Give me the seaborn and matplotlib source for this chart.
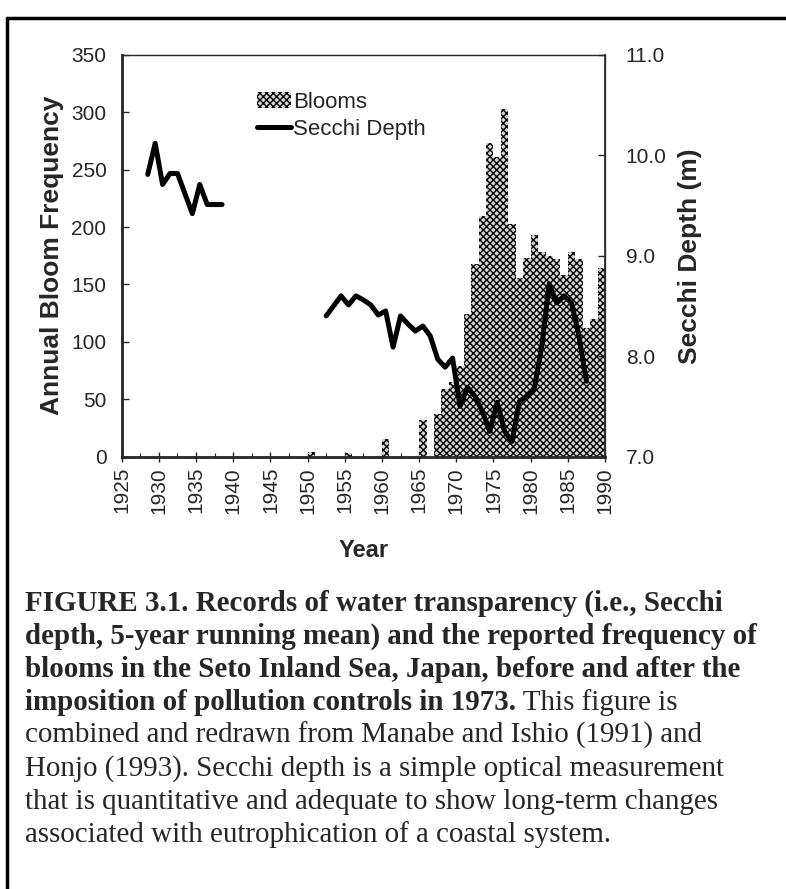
import numpy as np
import pandas as pd
import matplotlib
matplotlib.use("Agg")
import matplotlib.pyplot as plt
import seaborn as sns
from matplotlib.lines import Line2D
from matplotlib.patches import Patch
from matplotlib.ticker import MultipleLocator, FormatStrFormatter

# Reported bloom frequency per year (bars)
bloom_years = [1950, 1955, 1960, 1965, 1967, 1968, 1969, 1970, 1971, 1972,
               1973, 1974, 1975, 1976, 1977, 1978, 1979, 1980, 1981, 1982,
               1983, 1984, 1985, 1986, 1987, 1988, 1989]
bloom_counts = [4, 3, 15, 32, 37, 59, 65, 79, 124, 168,
                210, 273, 261, 303, 203, 156, 173, 193, 178, 175,
                172, 158, 178, 172, 112, 120, 164]

# Secchi depth, 5-year running mean (m) - two separate records
secchi_years_early = list(range(1928, 1939))
secchi_early = [9.81, 10.12, 9.71, 9.82, 9.82, 9.62, 9.42, 9.71, 9.51, 9.51, 9.51]

secchi_years_late = list(range(1952, 1988))
secchi_late = [8.40, 8.50, 8.60, 8.51, 8.60, 8.56, 8.51, 8.41, 8.45, 8.09,
               8.40, 8.32, 8.25, 8.30, 8.20, 7.97, 7.89, 7.98, 7.50, 7.69,
               7.60, 7.45, 7.25, 7.54, 7.25, 7.15, 7.55, 7.60, 7.68, 8.10,
               8.72, 8.53, 8.60, 8.53, 8.20, 7.75]

year_ticks = list(range(1925, 1991, 5))

caption_bold = [
    "FIGURE 3.1. Records of water transparency (i.e., Secchi",
    "depth, 5-year running mean) and the reported frequency of",
    "blooms in the Seto Inland Sea, Japan, before and after the",
    "imposition of pollution controls in 1973.",
]
caption_plain = [
    " This figure is",
    "combined and redrawn from Manabe and Ishio (1991) and",
    "Honjo (1993). Secchi depth is a simple optical measurement",
    "that is quantitative and adequate to show long-term changes",
    "associated with eutrophication of a coastal system.",
]

sns.set_style("ticks")
plt.rcParams["font.family"] = ["Liberation Sans", "DejaVu Sans"]
plt.rcParams["hatch.linewidth"] = 1.0

W, H = 786, 889
fig = plt.figure(figsize=(W / 100, H / 100), dpi=100)
ax = fig.add_axes([121.7 / W, 1 - 456.5 / H, (605 - 121.7) / W, (456.5 - 55) / H])

bar_face = "#d6d6d6"
bar_hatch = "xxxxx"

# bars sit between year and year+1
blooms = pd.DataFrame({"year": np.array(bloom_years) + 0.5, "count": bloom_counts})
sns.barplot(data=blooms, x="year", y="count", native_scale=True, width=1.0,
            errorbar=None, color=bar_face, edgecolor="black", hatch=bar_hatch,
            linewidth=0, ax=ax)

ax.set_xlim(1925, 1990)
ax.set_ylim(0, 350)
ax.xaxis.set_minor_locator(MultipleLocator(2.5))
ax.yaxis.set_major_locator(MultipleLocator(50))
ax.set_xticks(year_ticks)
ax.set_xticklabels([str(y) for y in year_ticks], rotation=90, fontsize=15)
ax.tick_params(axis="y", labelsize=15, direction="in", length=5, width=1, pad=11)
ax.tick_params(axis="x", which="major", direction="inout", length=7, width=1, pad=4)
ax.tick_params(axis="x", which="minor", direction="in", length=3, width=0.8)
ax.set_xlabel("Year", fontsize=17, fontweight="bold", labelpad=18)
ax.set_ylabel("Annual Bloom Frequency", fontsize=19, fontweight="bold", labelpad=5)
for side in ["left", "bottom"]:
    ax.spines[side].set_linewidth(2)
for side in ["top", "right"]:
    ax.spines[side].set_linewidth(1)
    ax.spines[side].set_color("#555555")

ax2 = ax.twinx()
secchi = pd.DataFrame({
    "year": np.array(secchi_years_early + secchi_years_late) + 0.5,
    "depth": secchi_early + secchi_late,
    "record": ["early"] * len(secchi_early) + ["late"] * len(secchi_late),
})
sns.lineplot(data=secchi, x="year", y="depth", units="record", estimator=None,
             color="black", linewidth=3.6, ax=ax2)
ax2.set_ylim(7, 11)
ax2.yaxis.set_major_locator(MultipleLocator(1))
ax2.yaxis.set_major_formatter(FormatStrFormatter("%.1f"))
ax2.tick_params(axis="y", labelsize=15, direction="in", length=5, width=1, pad=15)
ax2.set_ylabel("Secchi Depth (m)", fontsize=19, fontweight="bold", labelpad=8)
ax2.set_xlabel("")
ax2.spines["right"].set_linewidth(1.2)

handles = [Patch(facecolor=bar_face, edgecolor="black", hatch=bar_hatch, linewidth=0),
           Line2D([], [], color="black", linewidth=3.6)]
ax2.legend(handles, ["Blooms", "Secchi Depth"], loc="upper left",
           bbox_to_anchor=(0.262, 0.93), frameon=False, fontsize=16,
           handlelength=1.5, handletextpad=0.1, labelspacing=0.25,
           borderaxespad=0)

# page frame
fig.add_artist(Line2D([7 / W, 1.0], [1 - 18 / H, 1 - 18 / H], transform=fig.transFigure,
                      color="black", linewidth=2.5))
fig.add_artist(Line2D([7 / W, 7 / W], [0, 1 - 18 / H], transform=fig.transFigure,
                      color="black", linewidth=2.5))

# caption
serif = ["Liberation Serif", "DejaVu Serif"]
cap_size = 20.9
x0 = 25 / W
line_y = [611 + 33 * i for i in range(8)]
last = None
for i, txt in enumerate(caption_bold):
    last = fig.text(x0, 1 - line_y[i] / H, txt, fontsize=cap_size, family=serif,
                    fontweight="bold", va="baseline")
fig.canvas.draw()
ax.annotate(caption_plain[0], xy=(1, 0), xycoords=last, va="bottom", ha="left",
            fontsize=cap_size, family=serif)
for j, txt in enumerate(caption_plain[1:]):
    fig.text(x0, 1 - line_y[4 + j] / H, txt, fontsize=cap_size, family=serif,
             va="baseline")

fig.savefig("out.png", dpi=100)
